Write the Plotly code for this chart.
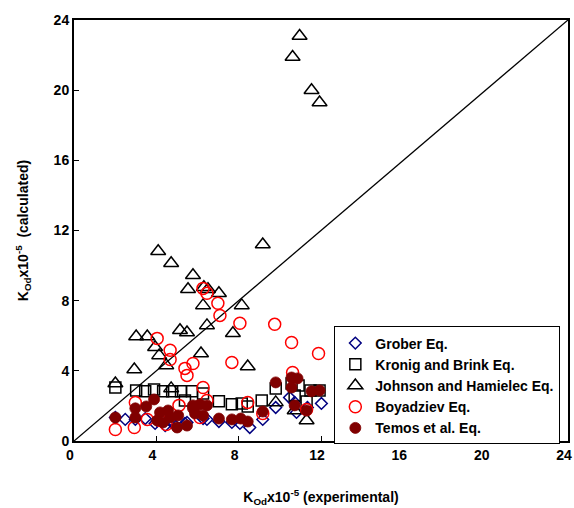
import plotly.graph_objects as go

# ---------------- data ----------------
grober_x = [2.01, 2.49, 2.98, 3.46, 3.94, 4.43, 4.81, 5.39, 5.49, 6.27, 6.46, 7.04, 7.67, 8.06,
            8.54, 9.17, 9.80, 10.47, 10.72, 10.81, 11.34, 12.02, 4.04, 4.67]
grober_y = [1.34, 1.23, 1.23, 1.28, 1.00, 0.88, 1.00, 1.00, 1.06, 1.28, 1.23, 1.11, 1.06, 1.00,
            0.77, 1.23, 1.91, 2.48, 2.20, 1.63, 1.91, 2.14, 1.17, 1.17]

kronig_x = [2.01, 3.02, 3.46, 3.89, 4.33, 4.77, 5.20, 5.73, 6.27, 5.39, 7.04, 7.67, 8.15, 8.44,
            9.12, 9.80, 10.57, 10.91, 10.72, 11.30, 11.49, 11.93]
kronig_y = [3.05, 2.88, 2.83, 2.94, 2.83, 2.83, 2.83, 2.83, 2.71, 2.31, 2.27, 2.10, 2.14, 1.97,
            2.31, 3.00, 3.28, 3.17, 2.60, 2.25, 2.88, 2.88]

johnson_x = [10.96, 10.62, 11.54, 11.93, 9.17, 4.09, 4.72, 5.78, 5.54, 6.31, 6.51, 7.04, 6.27,
             8.15, 6.46, 7.72, 5.15, 5.49, 3.02, 3.56, 3.94, 4.14, 4.48, 2.93, 2.01, 4.72,
             6.17, 8.44, 9.80, 10.72, 11.30]
johnson_y = [23.09, 21.89, 20.00, 19.30, 11.20, 10.82, 10.13, 9.45, 8.65, 8.76, 8.65, 8.42, 7.73,
             7.73, 6.59, 6.14, 6.31, 6.19, 5.96, 5.96, 5.34, 4.88, 4.31, 4.08, 3.28, 3.00,
             4.99, 4.25, 2.20, 1.74, 1.17]

boyadziev_x = [6.27, 6.46, 6.99, 7.09, 8.06, 9.75, 4.04, 10.57, 11.88, 7.67, 5.78, 10.62, 6.27,
               6.46, 8.44, 9.17, 11.30, 6.12, 4.67, 4.67, 5.39, 5.49, 2.98, 5.10, 2.01, 2.93,
               4.18, 4.48, 3.56]
boyadziev_y = [8.70, 8.42, 7.85, 7.16, 6.71, 6.65, 5.85, 5.62, 4.99, 4.48, 4.42, 3.91, 3.05,
               2.31, 2.20, 1.57, 1.80, 1.34, 5.17, 4.65, 4.14, 3.74, 2.20, 2.03, 0.66, 0.77,
               1.17, 0.94, 1.23]

temos_x = [2.01, 2.98, 2.98, 3.51, 3.89, 4.04, 4.33, 4.57, 4.67, 5.06, 5.01, 5.49, 5.78, 5.78,
           6.12, 6.46, 6.27, 7.04, 7.67, 8.10, 8.44, 9.17, 9.80, 10.57, 10.86, 10.57, 10.72,
           11.30, 11.54, 11.93, 4.18, 5.88]
temos_y = [1.34, 1.86, 1.34, 1.97, 2.37, 1.17, 1.06, 1.74, 1.34, 1.46, 0.77, 0.88, 1.86, 2.03,
           2.08, 2.03, 1.46, 1.28, 1.23, 1.28, 1.11, 1.68, 3.34, 3.62, 3.57, 3.05, 2.03,
           1.74, 2.83, 2.88, 1.63, 1.57]

series_names = ["Grober Eq.", "Kronig and Brink Eq.", "Johnson and Hamielec Eq.",
                "Boyadziev Eq.", "Temos et al. Eq."]
axis_range = [0, 24]
tick_vals = [0, 4, 8, 12, 16, 20, 24]

# ---------------- figure ----------------
FONT = "Liberation Sans, Arial, sans-serif"
fig = go.Figure()

# y = x reference line
fig.add_trace(go.Scatter(x=axis_range, y=axis_range, mode="lines",
                         line=dict(color="black", width=1.3),
                         showlegend=False, hoverinfo="skip"))

fig.add_trace(go.Scatter(x=grober_x, y=grober_y, mode="markers", name=series_names[0],
                         marker=dict(symbol="diamond-open", size=9, color="#000080",
                                     line=dict(width=1.5, color="#000080"))))
fig.add_trace(go.Scatter(x=kronig_x, y=kronig_y, mode="markers", name=series_names[1],
                         marker=dict(symbol="square-open", size=11, color="black",
                                     line=dict(width=1.5, color="black"))))
fig.add_trace(go.Scatter(x=johnson_x, y=johnson_y, mode="markers", name=series_names[2],
                         marker=dict(symbol="triangle-up-open", size=13, color="black",
                                     line=dict(width=1.5, color="black"))))
fig.add_trace(go.Scatter(x=boyadziev_x, y=boyadziev_y, mode="markers", name=series_names[3],
                         marker=dict(symbol="circle-open", size=12, color="red",
                                     line=dict(width=1.5, color="red"))))
fig.add_trace(go.Scatter(x=temos_x, y=temos_y, mode="markers", name=series_names[4],
                         marker=dict(symbol="circle", size=11, color="#800000",
                                     line=dict(width=0.8, color="#800000"))))

axis_common = dict(range=axis_range, tickvals=tick_vals, ticks="inside", ticklen=5,
                   tickwidth=1, tickcolor="black", showgrid=False, zeroline=False,
                   showline=True, linecolor="black", linewidth=2, mirror=True,
                   automargin=False,
                   tickfont=dict(family=FONT, size=14, color="black", weight="bold"))

fig.update_xaxes(**axis_common, ticklabelshift=-4, ticklabeloverflow="allow",
                 title=dict(text="K<sub>Od</sub>x10<sup>-5</sup> (experimental)",
                            font=dict(family=FONT, size=14, color="black", weight="bold"),
                            standoff=30))
fig.update_yaxes(**axis_common,
                 title=dict(text="K<sub>Od</sub>x10<sup>-5</sup>  (calculated)",
                            font=dict(family=FONT, size=14, color="black", weight="bold"),
                            standoff=22))

fig.update_layout(
    width=574, height=508,
    margin=dict(l=74, r=6, t=20, b=67),
    paper_bgcolor="white", plot_bgcolor="white",
    font=dict(family=FONT, color="black"),
    legend=dict(x=0.527, y=0.272, xanchor="left", yanchor="top",
                bordercolor="black", borderwidth=1, bgcolor="white",
                font=dict(family=FONT, size=14, color="black", weight="bold"),
                tracegroupgap=0, itemwidth=30),
)

fig.write_html("out.html")
